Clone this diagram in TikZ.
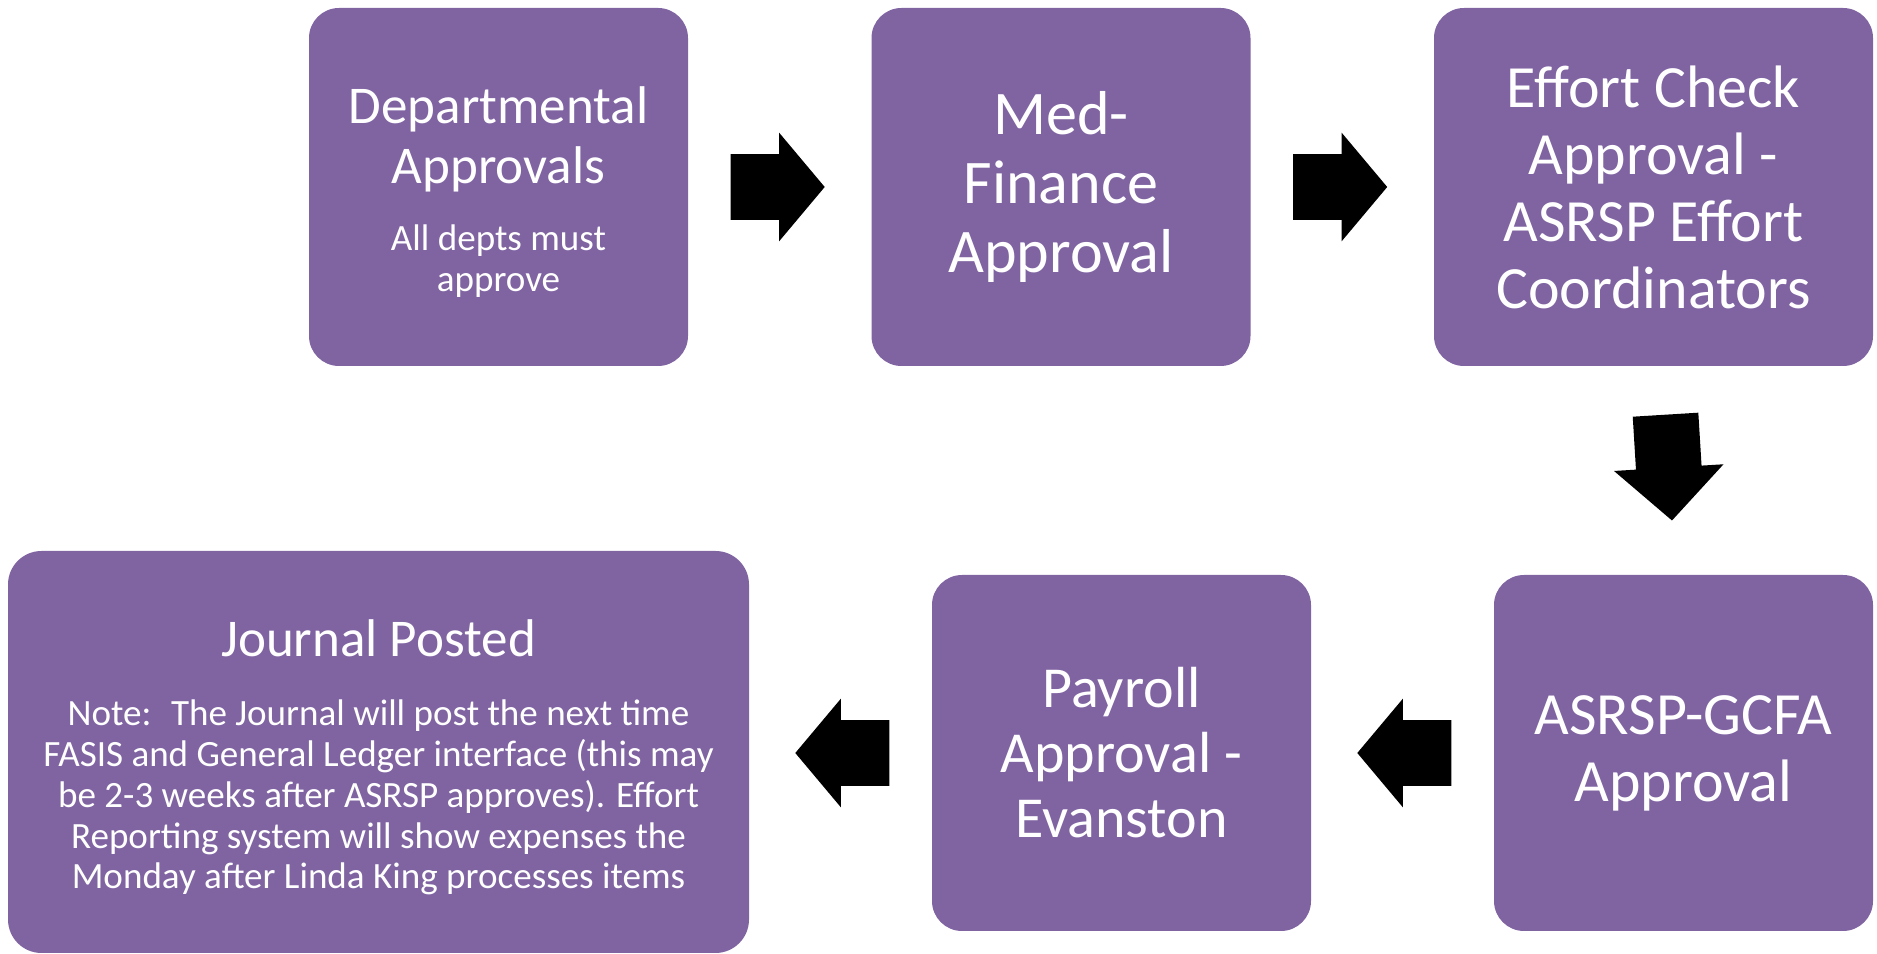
\documentclass[tikz,border=0pt]{standalone}
\usepackage{fontspec}
\setmainfont{Carlito}
\usepackage{tikz}
\usetikzlibrary{shapes.arrows}
\definecolor{ppurple}{RGB}{128,100,162}
\newcommand{\notesize}{\fontsize{21.1}{23.2}\selectfont}

\begin{document}
\begin{tikzpicture}[
    stepbox/.style={rectangle, rounded corners=0.6cm, fill=ppurple, text=white,
        inner sep=0pt, align=flush center, minimum width=7.58cm, minimum height=7.16cm,
        text width=7cm},
    blockarrow/.style={single arrow, fill=black, inner xsep=0pt, inner ysep=0.65cm,
        single arrow head extend=0.43cm, single arrow tip angle=100,
        minimum height=1.88cm, anchor=tail}]
    \useasboundingbox (0, 0) rectangle (37.54, 19.08);
    % \draw[help lines, gray] (0, 0) grid (37, 19);

    % top row
    \node[stepbox, font={\fontsize{30.2}{34.1}\selectfont}] (dept) at (9.97, 15.34)
        {\rule{0pt}{27pt}Departmental\\Approvals\par\vspace{15pt}\notesize All depts must\\approve\par};
    \node[stepbox, font={\fontsize{35.3}{39.3}\selectfont}] (med) at (21.22, 15.34)
        {Med-\\Finance\\Approval};
    \node[stepbox, minimum width=8.78cm, text width=8.2cm,
        font={\fontsize{34.1}{38.1}\selectfont}] (effort) at (33.07, 15.34)
        {Effort Check\\Approval -\\ASRSP Effort\\Coordinators};

    % bottom row
    \node[stepbox, minimum height=7.12cm, font={\fontsize{34.1}{38.1}\selectfont}]
        (gcfa) at (33.67, 4.02) {ASRSP-GCFA\\Approval};
    \node[stepbox, minimum height=7.12cm, font={\fontsize{33}{37}\selectfont}]
        (payroll) at (22.43, 4.02) {Payroll\\Approval -\\Evanston};
    \node[stepbox, rounded corners=0.67cm, minimum width=14.82cm, minimum height=8.04cm,
        text width=14cm, font={\fontsize{30.2}{34.1}\selectfont}] (journal) at (7.57, 4.04)
        {\rule{0pt}{27pt}Journal Posted\par\vspace{16.5pt}\notesize
         Note: \ The Journal will post the next time\\
         FASIS and General Ledger interface (this may\\
         be 2-3 weeks after ASRSP approves). Effort\\
         Reporting system will show expenses the\\
         Monday after Linda King processes items\par};

    % arrows
    \node[blockarrow] (a1) at ([xshift=0.84cm]dept.east) {};
    \node[blockarrow] (a2) at ([xshift=0.84cm]med.east) {};
    \node[blockarrow, rotate=-86.5, minimum height=2.12cm, single arrow tip angle=92,
        single arrow head extend=0.44cm] (a3) at ([xshift=0.24cm, yshift=-0.96cm]effort.south) {};
    \node[blockarrow, rotate=180] (a4) at ([xshift=-0.84cm]gcfa.west) {};
    \node[blockarrow, rotate=180] (a5) at ([xshift=-0.84cm]payroll.west) {};
\end{tikzpicture}
\end{document}
